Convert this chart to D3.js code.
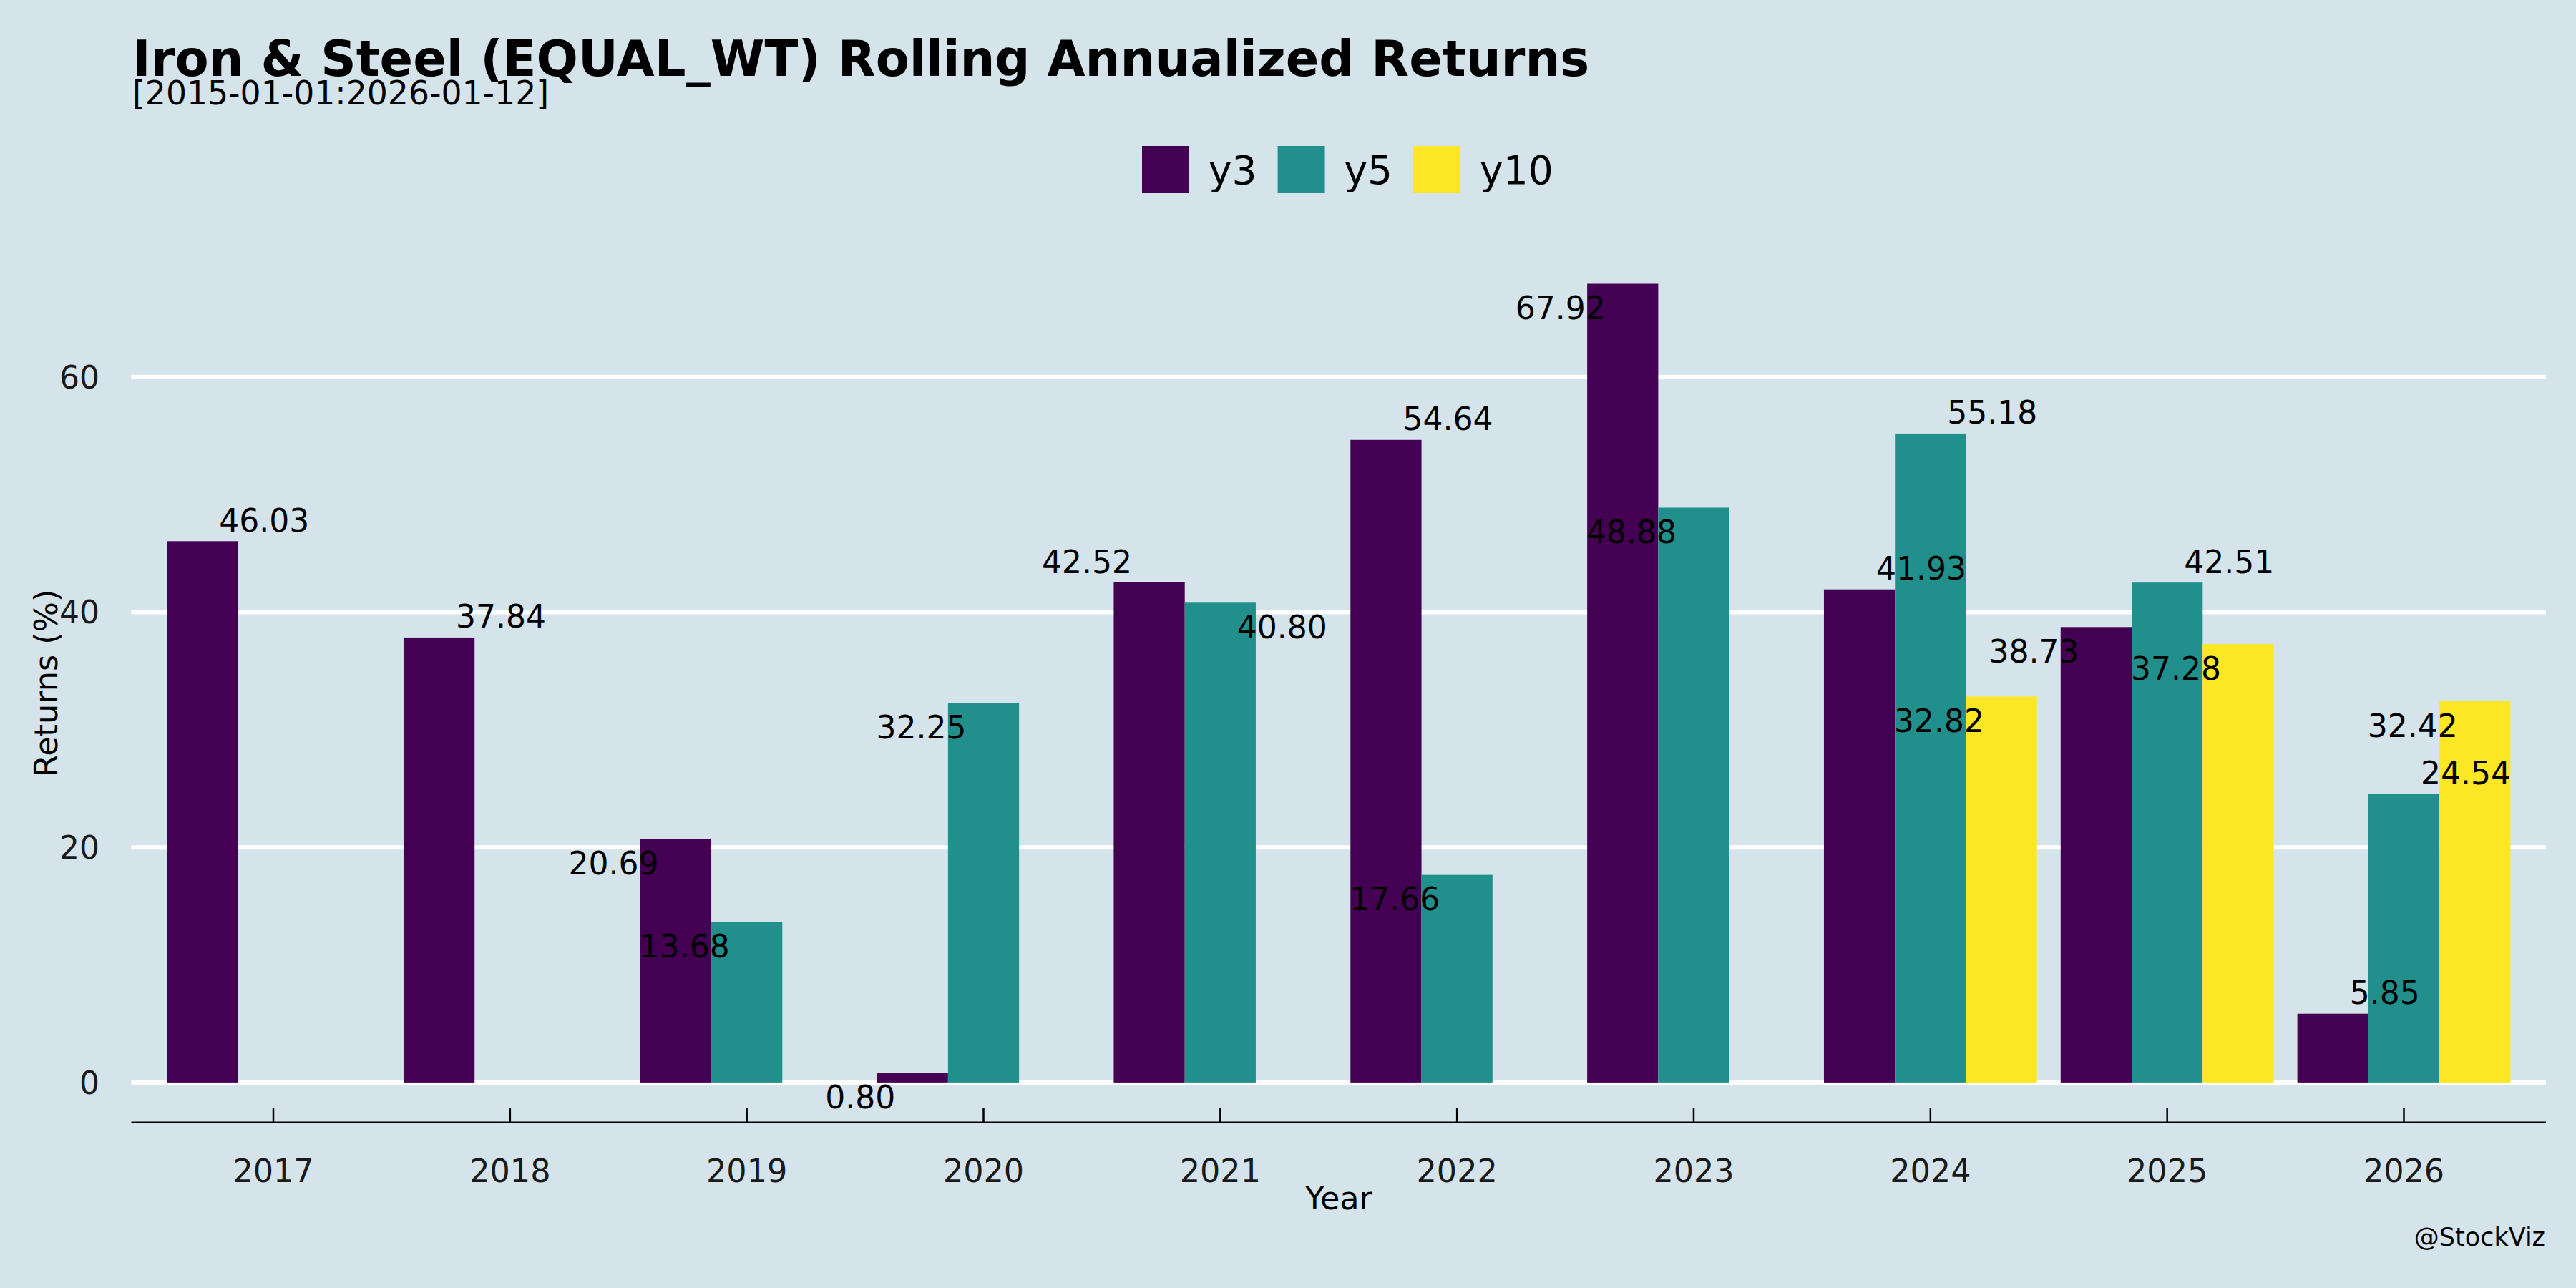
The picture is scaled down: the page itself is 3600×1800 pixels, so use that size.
<!DOCTYPE html>
<html>
<head>
<meta charset="utf-8">
<script src="https://cdn.jsdelivr.net/npm/d3@7"></script>
<style>
  html, body { margin: 0; padding: 0; background: #d5e4eb; }
  svg { display: block; font-family: "DejaVu Sans", sans-serif; }
</style>
</head>
<body>
<div id="chart"></div>
<script>
// Data
const YEARS = ["2017", "2018", "2019", "2020", "2021", "2022", "2023", "2024", "2025", "2026"];
const SERIES = ["y3", "y5", "y10"];
const Y3 = [46.03, 37.84, 20.69, 0.80, 42.52, 54.64, 67.92, 41.93, 38.73, 5.85];
const Y5 = [null, null, 13.68, 32.25, 40.80, 17.66, 48.88, 55.18, 42.51, 24.54];
const Y10 = [null, null, null, null, null, null, null, 32.82, 37.28, 32.42];
const Y_TICKS = [0, 20, 40, 60];

// which corner of the bar top each value label hangs off (u/d = up/down, l/r = left/right)
const Y3_LABEL_SIDE = ["ur", "ur", "dl", "dl", "ul", "ur", "dl", "ur", "dl", "ur"];
const Y5_LABEL_SIDE = [null, null, "dl", "dl", "dr", "dl", "dl", "ur", "ur", "ur"];
const Y10_LABEL_SIDE = [null, null, null, null, null, null, null, "dl", "dl", "dl"];

(function () {
  "use strict";

  const W = 3600, H = 1800;
  const PANEL = { left: 183.5, right: 3558, top: 340.7, bottom: 1568.7 };
  const COLORS = { y3: "#440154", y5: "#21908c", y10: "#fde725" };
  const BG = "#d5e4eb";

  const valuesBySeries = { y3: Y3, y5: Y5, y10: Y10 };
  const sidesBySeries = { y3: Y3_LABEL_SIDE, y5: Y5_LABEL_SIDE, y10: Y10_LABEL_SIDE };

  const rows = [];
  SERIES.forEach(s => {
    YEARS.forEach((yr, i) => {
      const v = valuesBySeries[s][i];
      if (v == null) return;
      rows.push({ year: yr, series: s, value: v, side: sidesBySeries[s][i] });
    });
  });

  const svg = d3.select("#chart")
    .append("svg")
    .attr("width", W)
    .attr("height", H)
    .attr("viewBox", `0 0 ${W} ${H}`);

  svg.append("rect").attr("width", W).attr("height", H).attr("fill", BG);

  // Scales (ggplot style: discrete x with 0.6 expansion, y with 5% padding)
  const x0 = d3.scaleBand()
    .domain(YEARS)
    .range([PANEL.left, PANEL.right])
    .paddingInner(0)
    .paddingOuter(0.1);
  const step = x0.step();
  const x1 = d3.scaleBand()
    .domain(SERIES)
    .range([0, step * 0.9]);

  const maxV = d3.max(rows, d => d.value);
  const pad = maxV * 0.05;
  const y = d3.scaleLinear()
    .domain([-pad, maxV + pad])
    .range([PANEL.bottom, PANEL.top]);

  // Gridlines
  svg.append("g")
    .attr("class", "grid")
    .selectAll("line")
    .data(Y_TICKS)
    .enter()
    .append("line")
    .attr("x1", PANEL.left)
    .attr("x2", PANEL.right)
    .attr("y1", d => y(d))
    .attr("y2", d => y(d))
    .attr("stroke", "#ffffff")
    .attr("stroke-width", 6);

  // Y tick labels
  svg.append("g")
    .selectAll("text")
    .data(Y_TICKS)
    .enter()
    .append("text")
    .attr("x", 139)
    .attr("y", d => y(d) + 16)
    .attr("text-anchor", "end")
    .attr("font-size", 44)
    .attr("fill", "#1a1a1a")
    .text(d => d);

  // Bars
  const barX = d => x0(d.year) + step * 0.05 + x1(d.series);
  svg.append("g")
    .attr("class", "bars")
    .selectAll("rect")
    .data(rows)
    .enter()
    .append("rect")
    .attr("x", barX)
    .attr("width", x1.bandwidth())
    .attr("y", d => y(Math.max(0, d.value)))
    .attr("height", d => Math.abs(y(d.value) - y(0)))
    .attr("fill", d => COLORS[d.series]);

  // Value labels
  svg.append("g")
    .attr("class", "value-labels")
    .selectAll("text")
    .data(rows)
    .enter()
    .append("text")
    .attr("x", d => {
      const cx = barX(d) + x1.bandwidth() / 2;
      return d.side[1] === "r" ? cx + 23.5 : cx - 24;
    })
    .attr("y", d => d.side[0] === "u" ? y(d.value) - 13.5 : Math.min(y(d.value) + 49.5, y(0) + 44))
    .attr("text-anchor", d => d.side[1] === "r" ? "start" : "end")
    .attr("font-size", 44)
    .attr("fill", "#000")
    .text(d => d.value.toFixed(2));

  // X axis line + ticks (ticks point inward)
  svg.append("line")
    .attr("x1", PANEL.left)
    .attr("x2", PANEL.right)
    .attr("y1", PANEL.bottom)
    .attr("y2", PANEL.bottom)
    .attr("stroke", "#000")
    .attr("stroke-width", 2.5);

  const xt = svg.append("g").attr("class", "x-ticks");
  xt.selectAll("line")
    .data(YEARS)
    .enter()
    .append("line")
    .attr("x1", d => x0(d) + step / 2)
    .attr("x2", d => x0(d) + step / 2)
    .attr("y1", PANEL.bottom)
    .attr("y2", PANEL.bottom - 20)
    .attr("stroke", "#000")
    .attr("stroke-width", 2.5);
  xt.selectAll("text")
    .data(YEARS)
    .enter()
    .append("text")
    .attr("x", d => x0(d) + step / 2)
    .attr("y", 1651.7)
    .attr("text-anchor", "middle")
    .attr("font-size", 44.5)
    .attr("fill", "#1a1a1a")
    .text(d => d);

  // Axis titles
  svg.append("text")
    .attr("x", (PANEL.left + PANEL.right) / 2)
    .attr("y", 1690)
    .attr("text-anchor", "middle")
    .attr("font-size", 44.5)
    .attr("fill", "#000")
    .text("Year");

  svg.append("text")
    .attr("transform", `translate(80,${(PANEL.top + PANEL.bottom) / 2}) rotate(-90)`)
    .attr("text-anchor", "middle")
    .attr("font-size", 44.5)
    .attr("fill", "#000")
    .text("Returns (%)");

  // Title + subtitle
  svg.append("text")
    .attr("x", 185)
    .attr("y", 106)
    .attr("font-size", 68.7)
    .attr("font-weight", "bold")
    .attr("fill", "#000")
    .text("Iron & Steel (EQUAL_WT) Rolling Annualized Returns");

  svg.append("text")
    .attr("x", 185)
    .attr("y", 146)
    .attr("font-size", 45.7)
    .attr("fill", "#000")
    .text("[2015-01-01:2026-01-12]");

  // Legend
  const legend = svg.append("g").attr("class", "legend");
  let lx = 1596;
  SERIES.forEach(s => {
    legend.append("rect")
      .attr("x", lx)
      .attr("y", 204)
      .attr("width", 66)
      .attr("height", 66)
      .attr("fill", COLORS[s]);
    const t = legend.append("text")
      .attr("x", lx + 66 + 27)
      .attr("y", 237 + 20)
      .attr("font-size", 55)
      .attr("fill", "#000")
      .text(s);
    lx += 66 + 27 + t.node().getComputedTextLength() + 29;
  });

  // Caption
  svg.append("text")
    .attr("x", 3557)
    .attr("y", 1741)
    .attr("text-anchor", "end")
    .attr("font-size", 35)
    .attr("fill", "#000")
    .text("@StockViz");
})();
</script>
</body>
</html>
